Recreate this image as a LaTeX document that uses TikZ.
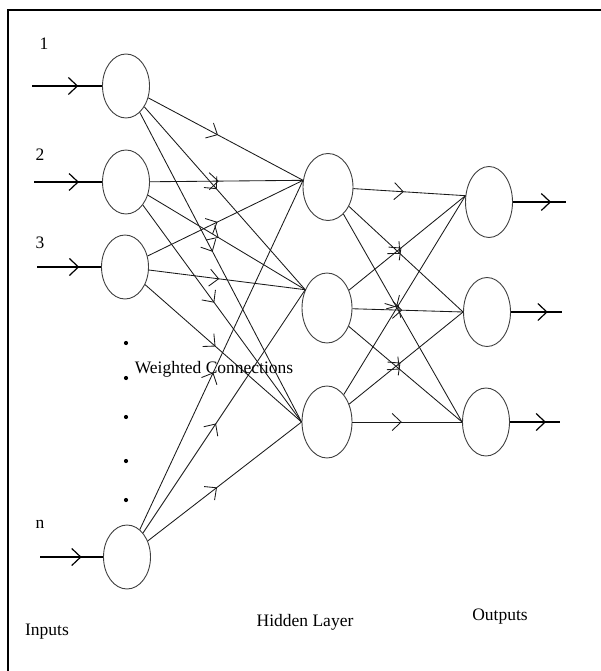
\documentclass[tikz,border=0pt]{standalone}
\usepackage{fontspec}
\setmainfont{Liberation Serif}
\usetikzlibrary{arrows.meta,shapes.geometric,decorations.markings}

\tikzset{
  neuron/.style={draw=black!75,line width=0.9pt,ellipse,inner sep=0pt,minimum width=47pt,minimum height=64pt},
  lbl/.style={font=\fontsize{17.5}{20}\selectfont},
  midarrow/.style={decoration={markings,mark=at position #1 with {\arrow{Straight Barb[length=9pt,width=17pt]}}},postaction={decorate}},
  midarrow/.default=0.45,
  wire/.style={black!90,line width=0.85pt,midarrow},
  feed/.style={line width=1.2pt,midarrow=#1},
}

\begin{document}
\begin{tikzpicture}[x=1pt,y=-1pt]
\useasboundingbox (0,0) rectangle (601,671);
\draw[line width=2.5pt] (8,671) -- (8,10) -- (601,10);

% inputs
\node[neuron] (i1) at (126,86) {};
\node[neuron] (i2) at (126,182) {};
\node[neuron] (i3) at (125,267) {};
\node[neuron] (in) at (127,557) {};
% hidden layer
\node[neuron,minimum width=50pt,minimum height=67pt] (h1) at (328,187) {};
\node[neuron,minimum width=50pt,minimum height=70pt] (h2) at (327,308) {};
\node[neuron,minimum width=50pt,minimum height=72pt] (h3) at (327,422) {};
% outputs
\node[neuron,minimum height=71pt] (o1) at (489,202) {};
\node[neuron,minimum height=69pt] (o2) at (487,312) {};
\node[neuron,minimum height=68pt] (o3) at (486,422) {};

\node[lbl] (t1) at (44,44) {1};
\node[lbl] (t2) at (40,155) {2};
\node[lbl] (t3) at (40,243) {3};
\node[lbl] (tn) at (40,524) {n};
\foreach \y in {343,378,417,461,500}
  \fill (126,\y) circle (2.1pt);

\coordinate (a1) at (32,86);
\coordinate (a2) at (34,182);
\coordinate (a3) at (37,267);
\coordinate (an) at (40,557);
\foreach \n in {1,2,3,n}
  \draw[feed=0.66] (a\n) -- (i\n.west);

\foreach \i in {1,2,3,n}
  \foreach \h/\ang in {1/165,2/140,3/180}
    \draw[wire] (i\i) -- (h\h.\ang);
\foreach \h in {1,2,3}
  \foreach \o/\ang in {1/165,2/180,3/180}
    \draw[wire] (h\h) -- (o\o.\ang);

\coordinate (b1) at (566,202);
\coordinate (b2) at (562,312);
\coordinate (b3) at (560,422);
\foreach \o in {1,2,3}
  \draw[feed=0.72] (o\o.east) -- (b\o);

\node[lbl] (wc) at (214,369) {Weighted Connections};
\node[lbl] (inp) at (47,632) {Inputs};
\node[lbl] (hid) at (305,622) {Hidden Layer};
\node[lbl] (out) at (500,617) {Outputs};
\end{tikzpicture}
\end{document}
